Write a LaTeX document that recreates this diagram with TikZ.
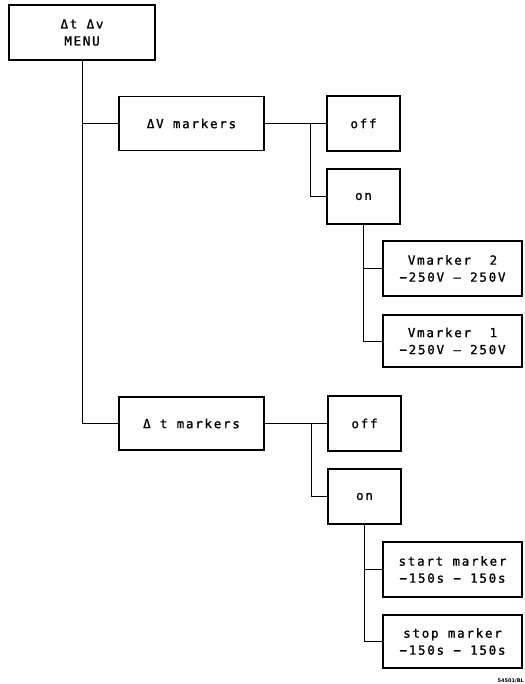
\documentclass[tikz,border=0pt]{standalone}
\usepackage{fontspec}
\newfontfamily\plotfont[LetterSpace=14,FakeBold=1.2]{DejaVu Sans Mono}
\newfontfamily\tagfont{DejaVu Sans}
\begin{document}
\begin{tikzpicture}[x=1pt,y=-1pt,
  box/.style={draw, line width=1.1pt, inner sep=0pt, align=center,
    font=\plotfont\fontsize{12.5}{17}\selectfont},
  wire/.style={line width=0.9pt}]
\useasboundingbox (0,0) rectangle (524,684);
% boxes
\node[box, minimum width=146pt, minimum height=55pt] (menu) at (82,32.5) {Δt Δv\\MENU};
\node[box, minimum width=145pt, minimum height=54pt] (dv) at (191.5,123.5) {ΔV markers};
\node[box, minimum width=145pt, minimum height=53pt] (dt) at (191.5,423.5) {Δ t markers};
\node[box, minimum width=73pt, minimum height=55pt] (off1) at (363.5,123.5) {off};
\node[box, minimum width=73pt, minimum height=55pt] (on1) at (363.5,196.5) {on};
\node[box, minimum width=139pt, minimum height=55pt] (vm2) at (452.5,268.5) {Vmarker\ \ 2\\−250V – 250V};
\node[box, minimum width=139pt, minimum height=52pt] (vm1) at (452.5,341) {Vmarker\ \ 1\\−250V – 250V};
\node[box, minimum width=73pt, minimum height=55pt] (off2) at (364.5,423.5) {off};
\node[box, minimum width=73pt, minimum height=55pt] (on2) at (364.5,496.5) {on};
\node[box, minimum width=139pt, minimum height=55pt] (start) at (452.5,569.5) {start marker\\−150s − 150s};
\node[box, minimum width=139pt, minimum height=53pt] (stop) at (452.5,641.5) {stop marker\\−150s − 150s};
\node[anchor=south east, inner sep=0pt, font=\tagfont\bfseries\fontsize{5}{6}\selectfont] (tag) at (524,683) {54501/BL};
% junction points
\coordinate (j1) at (310,123.5);
\coordinate (j2) at (311,423.5);
% connectors
\draw[wire] (menu.south) -- (menu.south |- dt.west) -- (dt.west);
\draw[wire] (menu.south |- dv.west) -- (dv.west);
\draw[wire] (dv.east) -- (off1.west);
\draw[wire] (j1) |- (on1.west);
\draw[wire] (on1.south) |- (vm1.west);
\draw[wire] (on1.south |- vm2.west) -- (vm2.west);
\draw[wire] (dt.east) -- (off2.west);
\draw[wire] (j2) |- (on2.west);
\draw[wire] (on2.south) |- (stop.west);
\draw[wire] (on2.south |- start.west) -- (start.west);
\end{tikzpicture}
\end{document}
